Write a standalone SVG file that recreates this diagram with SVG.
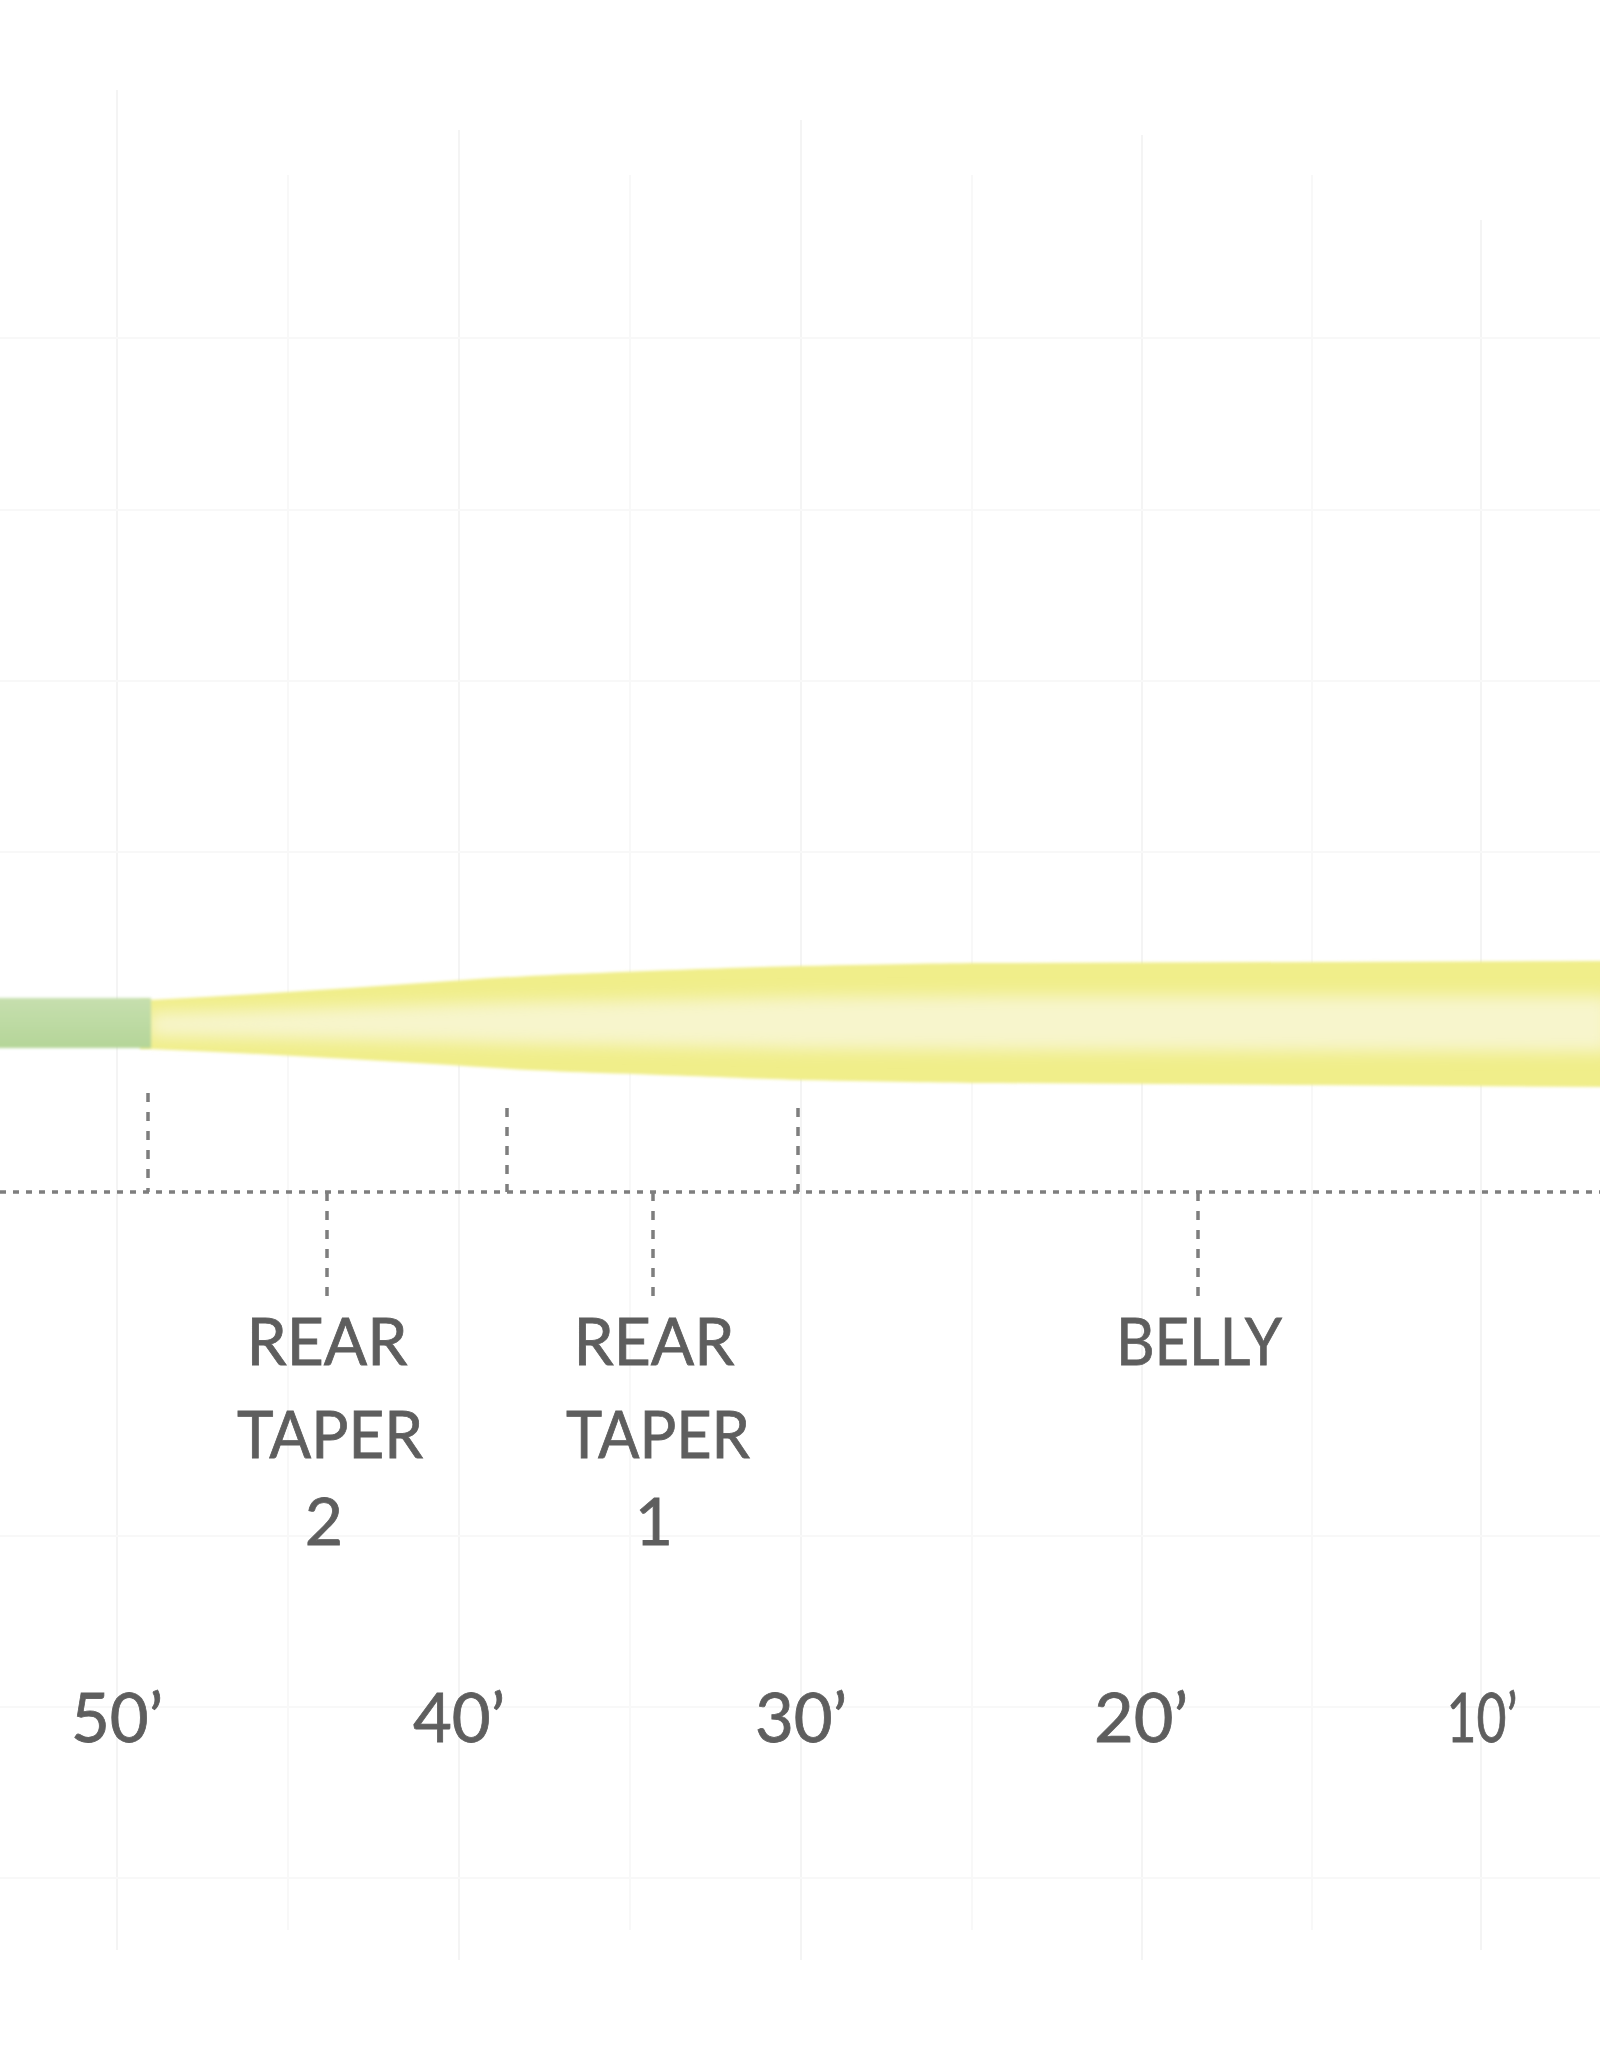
<svg xmlns="http://www.w3.org/2000/svg" width="1600" height="2048" viewBox="0 0 1600 2048">
  <defs>
    <style>
      .grid line { stroke: #f8f8f8; stroke-width: 2; }
      .grid line.major { stroke: #f4f4f4; }
      .hdot { stroke: #7e7e7e; stroke-width: 3.5; stroke-dasharray: 6 7; fill: none; }
      .vdash { stroke: #7e7e7e; stroke-width: 3.5; stroke-dasharray: 9 10; fill: none; }
      .lbl { font-family: Lato, "Liberation Sans", sans-serif; font-size: 66px; fill: #5e5e5e; text-anchor: middle; stroke: #5e5e5e; stroke-width: 0.8; }
      .num { font-family: Lato, "Liberation Sans", sans-serif; font-size: 68px; fill: #5e5e5e; text-anchor: middle; stroke: #5e5e5e; stroke-width: 0.8; }
    </style>
    <linearGradient id="greenGrad" x1="0" y1="0" x2="0" y2="1">
      <stop offset="0" stop-color="#c6dfae"/>
      <stop offset="1" stop-color="#b4d598"/>
    </linearGradient>
    <filter id="soft" x="-5%" y="-50%" width="110%" height="200%">
      <feGaussianBlur stdDeviation="1.5"/>
    </filter>
    <filter id="glow" x="-5%" y="-100%" width="110%" height="300%">
      <feGaussianBlur stdDeviation="8"/>
    </filter>
  </defs>

  <rect x="0" y="0" width="1600" height="2048" fill="#ffffff"/>

  <g id="grid" class="grid">
    <line class="major" x1="117" y1="90" x2="117" y2="1950"/>
    <line x1="288" y1="175" x2="288" y2="1930"/>
    <line class="major" x1="459" y1="130" x2="459" y2="1960"/>
    <line x1="630" y1="175" x2="630" y2="1930"/>
    <line class="major" x1="801" y1="120" x2="801" y2="1960"/>
    <line x1="972" y1="175" x2="972" y2="1930"/>
    <line class="major" x1="1142" y1="135" x2="1142" y2="1960"/>
    <line x1="1312" y1="175" x2="1312" y2="1930"/>
    <line class="major" x1="1481" y1="220" x2="1481" y2="1950"/>
    <line x1="0" y1="338" x2="1600" y2="338"/>
    <line x1="0" y1="510" x2="1600" y2="510"/>
    <line x1="0" y1="681" x2="1600" y2="681"/>
    <line x1="0" y1="852" x2="1600" y2="852"/>
    <line x1="0" y1="1536" x2="1600" y2="1536"/>
    <line x1="0" y1="1707" x2="1600" y2="1707"/>
    <line x1="0" y1="1878" x2="1600" y2="1878"/>
  </g>

  <g id="fly-line">
    <g filter="url(#soft)">
      <path d="M140,1000 L150,1000 C250,995 350,988 450,981 C520,976 570,974 600,973 C700,969 760,967 800,966 C900,964 950,963 1000,963 L1610,961 L1610,1087 L1000,1083 C950,1083 900,1082 800,1080 C760,1079 700,1076 600,1073 C570,1072 520,1070 450,1065 C350,1059 250,1053 150,1049 L140,1049 Z" fill="#f0ee8a"/>
    </g>
    <path filter="url(#glow)" d="M150,1013 C250,1011 350,1007 450,1004 C520,1002 570,1001 600,1001 C700,999 760,998 800,997 L1000,996 L1610,996 L1610,1052 L1000,1050 L800,1049 C760,1048 700,1047 600,1045 C570,1045 520,1044 450,1042 C350,1040 250,1037 150,1036 Z" fill="#f7f5cc"/>
    <g filter="url(#soft)">
      <rect x="-10" y="998" width="161" height="50" fill="url(#greenGrad)"/>
    </g>
  </g>

  <g id="connectors">
    <line class="hdot" x1="0" y1="1192" x2="1600" y2="1192"/>
    <line class="vdash" x1="148" y1="1093" x2="148" y2="1192"/>
    <line class="vdash" x1="507" y1="1108" x2="507" y2="1192"/>
    <line class="vdash" x1="798" y1="1108" x2="798" y2="1192"/>
    <line class="vdash" x1="327" y1="1192" x2="327" y2="1298"/>
    <line class="vdash" x1="653" y1="1192" x2="653" y2="1298"/>
    <line class="vdash" x1="1198" y1="1192" x2="1198" y2="1298"/>
  </g>

  <g id="label-rear-taper-2">
    <text class="lbl" x="327" y="1365" textLength="161" lengthAdjust="spacingAndGlyphs">REAR</text>
    <text class="lbl" x="330" y="1458" textLength="186" lengthAdjust="spacingAndGlyphs">TAPER</text>
    <text class="lbl" x="324" y="1545">2</text>
  </g>

  <g id="label-rear-taper-1">
    <text class="lbl" x="654" y="1365" textLength="161" lengthAdjust="spacingAndGlyphs">REAR</text>
    <text class="lbl" x="658" y="1458" textLength="184" lengthAdjust="spacingAndGlyphs">TAPER</text>
    <text class="lbl" x="654" y="1545">1</text>
  </g>

  <g id="label-belly">
    <text class="lbl" x="1199" y="1365" textLength="166" lengthAdjust="spacingAndGlyphs">BELLY</text>
  </g>

  <g id="scale">
    <text class="num" x="117" y="1742" textLength="92" lengthAdjust="spacingAndGlyphs">50’</text>
    <text class="num" x="459" y="1742" textLength="92" lengthAdjust="spacingAndGlyphs">40’</text>
    <text class="num" x="801" y="1742" textLength="92" lengthAdjust="spacingAndGlyphs">30’</text>
    <text class="num" x="1141" y="1742" textLength="94" lengthAdjust="spacingAndGlyphs">20’</text>
    <text class="num" x="1482" y="1742" textLength="71" lengthAdjust="spacingAndGlyphs">10’</text>
  </g>
</svg>
